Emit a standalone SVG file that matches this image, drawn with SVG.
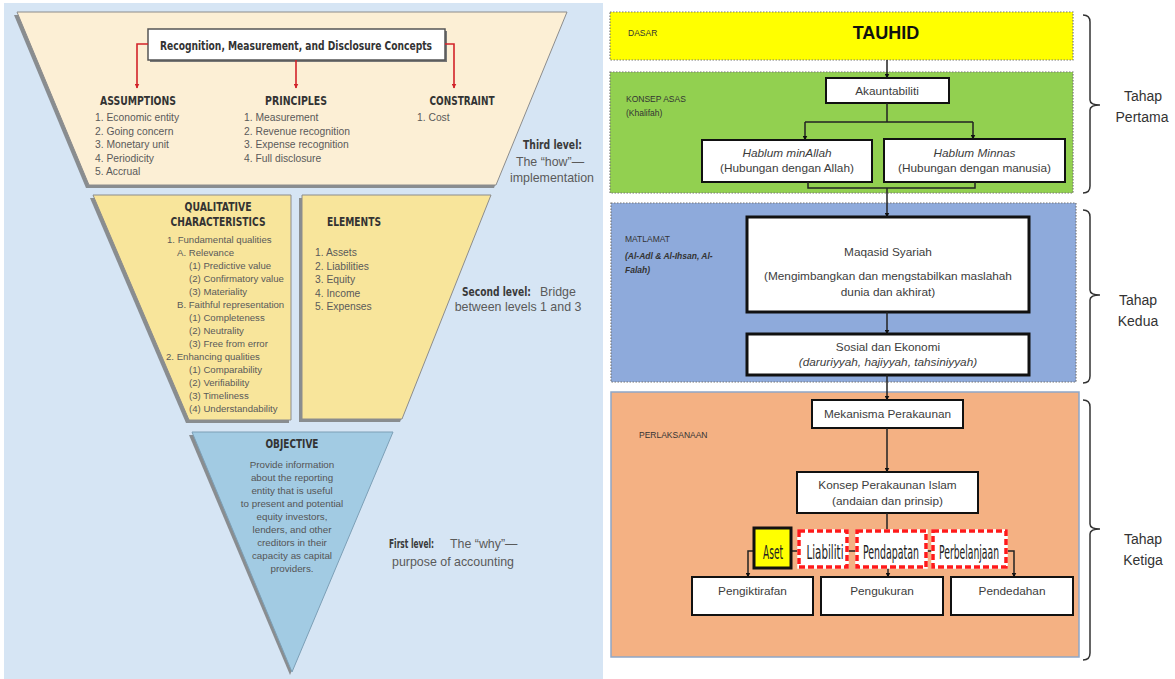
<svg xmlns="http://www.w3.org/2000/svg" width="1175" height="679" viewBox="0 0 1175 679">
  <style>
    .hd { font-family: "Liberation Sans Narrow", "DejaVu Sans Condensed", "Liberation Sans", sans-serif; font-weight: bold; font-size: 12.5px; fill: #333; }
    .it { font-family: "Liberation Sans", Arial, sans-serif; font-size: 10.3px; fill: #5a5a5a; }
    .iq { font-family: "Liberation Sans", Arial, sans-serif; font-size: 9.6px; fill: #5a5a5a; }
    .ob { font-family: "Liberation Sans", Arial, sans-serif; font-size: 9.8px; fill: #555; text-anchor: middle; }
    .lv { font-family: "Liberation Sans", Arial, sans-serif; font-size: 12.4px; fill: #5a5a5a; }
    .lvb { font-family: "Liberation Sans Narrow", "DejaVu Sans Condensed", "Liberation Sans", sans-serif; font-size: 11.4px; font-weight: bold; fill: #3a3a3a; }
    .shadow { fill: #6f6f6f; opacity: 0.75; }
    .r { font-family: "Liberation Sans", Arial, sans-serif; font-size: 11.8px; fill: #3c3c3c; text-anchor: middle; }
    .ri { font-style: italic; }
    .sm { font-family: "Liberation Sans", Arial, sans-serif; font-size: 8.5px; fill: #333; }
    .box { fill: #fff; stroke: #111; stroke-width: 2; }
    .box3 { fill: #fff; stroke: #111; stroke-width: 3; }
    .band { stroke: #777; stroke-width: 1.2; stroke-dasharray: 1.5 1.5; }
    .chip { font-family: "Liberation Sans Narrow", "DejaVu Sans Condensed", "Liberation Sans", sans-serif; font-size: 15px; fill: #222; text-anchor: middle; }
    .dash-under { fill: #fff; stroke: #fff; stroke-width: 3.5; }
    .dash { fill: none; stroke: #ff1a1a; stroke-width: 3.5; stroke-dasharray: 6 3; }
    .conn { fill: none; stroke: #222; stroke-width: 1.5; }
    .red { fill: none; stroke: #d2232a; stroke-width: 1.6; }
    .brace { fill: none; stroke: #333; stroke-width: 1.5; }
    .tahap { font-family: "Liberation Sans", Arial, sans-serif; font-size: 14px; fill: #333; text-anchor: middle; }
  </style>
  <defs>
    <marker id="redhead" viewBox="0 0 10 10" refX="9" refY="5" markerWidth="5" markerHeight="5" orient="auto" markerUnits="userSpaceOnUse">
      <path d="M0,0 L10,5 L0,10 z" fill="#d2232a"/>
    </marker>
    <marker id="blackhead" viewBox="0 0 10 10" refX="9" refY="5" markerWidth="5" markerHeight="5" orient="auto" markerUnits="userSpaceOnUse">
      <path d="M0,0 L10,5 L0,10 z" fill="#111"/>
    </marker>
  </defs>

  <rect x="0" y="0" width="1175" height="679" fill="#ffffff"/>

  <!-- conceptual framework pyramid -->
  <g id="framework-panel">
    <rect x="4" y="3" width="599" height="676" fill="#d6e5f4"/>
  </g>

  <g id="third-level">
    <polygon class="shadow" points="14,15 564,15 494,188 86,188"/>
    <polygon points="17,12 567,12 496,185 89,185" fill="#fcefd5" stroke="#8c8c8c" stroke-width="1"/>
  </g>

  <g id="concepts-box">
    <rect x="150" y="31" width="297" height="31" fill="#777"/>
    <rect x="148" y="29" width="297" height="31" fill="#fff" stroke="#555" stroke-width="1.5"/>
    <text class="hd" x="296" y="49.5" text-anchor="middle" textLength="272" lengthAdjust="spacingAndGlyphs">Recognition, Measurement, and Disclosure Concepts</text>
  </g>

  <g id="red-connectors">
    <path class="red" d="M148,44 H137 V88" marker-end="url(#redhead)"/>
    <path class="red" d="M296,60 V88" marker-end="url(#redhead)"/>
    <path class="red" d="M445,44 H454 V88" marker-end="url(#redhead)"/>
  </g>

  <g id="assumptions">
    <text class="hd" x="138" y="105" text-anchor="middle" textLength="76" lengthAdjust="spacingAndGlyphs">ASSUMPTIONS</text>
    <text class="it" x="95" y="121">1. Economic entity</text>
    <text class="it" x="95" y="134.5">2. Going concern</text>
    <text class="it" x="95" y="148">3. Monetary unit</text>
    <text class="it" x="95" y="161.5">4. Periodicity</text>
    <text class="it" x="95" y="175">5. Accrual</text>
  </g>

  <g id="principles">
    <text class="hd" x="296" y="105" text-anchor="middle" textLength="62" lengthAdjust="spacingAndGlyphs">PRINCIPLES</text>
    <text class="it" x="244" y="121">1. Measurement</text>
    <text class="it" x="244" y="134.5">2. Revenue recognition</text>
    <text class="it" x="244" y="148">3. Expense recognition</text>
    <text class="it" x="244" y="161.5">4. Full disclosure</text>
  </g>

  <g id="constraint">
    <text class="hd" x="462" y="105" text-anchor="middle" textLength="65" lengthAdjust="spacingAndGlyphs">CONSTRAINT</text>
    <text class="it" x="417" y="121">1. Cost</text>
  </g>

  <g id="third-level-label">
    <text class="lvb" x="523" y="149" textLength="59" lengthAdjust="spacingAndGlyphs">Third level:</text>
    <text class="lv" x="550" y="166" text-anchor="middle">The “how”—</text>
    <text class="lv" x="552" y="182" text-anchor="middle">implementation</text>
  </g>

  <g id="qualitative-characteristics">
    <polygon class="shadow" points="90,198 289,198 289,423 186,423"/>
    <polygon points="93,195 291,195 291,420 189,420" fill="#f8e59b" stroke="#8c8c8c" stroke-width="1"/>
    <text class="hd" x="218" y="211" text-anchor="middle" textLength="67" lengthAdjust="spacingAndGlyphs">QUALITATIVE</text>
    <text class="hd" x="218" y="226" text-anchor="middle" textLength="95" lengthAdjust="spacingAndGlyphs">CHARACTERISTICS</text>
    <text class="iq" x="167" y="243">1. Fundamental qualities</text>
    <text class="iq" x="177" y="256">A. Relevance</text>
    <text class="iq" x="189" y="269">(1) Predictive value</text>
    <text class="iq" x="189" y="282">(2) Confirmatory value</text>
    <text class="iq" x="189" y="295">(3) Materiality</text>
    <text class="iq" x="177" y="308">B. Faithful representation</text>
    <text class="iq" x="189" y="321">(1) Completeness</text>
    <text class="iq" x="189" y="334">(2) Neutrality</text>
    <text class="iq" x="189" y="347">(3) Free from error</text>
    <text class="iq" x="166" y="360">2. Enhancing qualities</text>
    <text class="iq" x="189" y="373">(1) Comparability</text>
    <text class="iq" x="189" y="386">(2) Verifiability</text>
    <text class="iq" x="189" y="399">(3) Timeliness</text>
    <text class="iq" x="189" y="412">(4) Understandability</text>
  </g>

  <g id="elements">
    <polygon class="shadow" points="299,198 488,198 400,422 299,422"/>
    <polygon points="302,195 491,195 402,419 302,419" fill="#f8e59b" stroke="#8c8c8c" stroke-width="1"/>
    <text class="hd" x="327" y="226" textLength="54" lengthAdjust="spacingAndGlyphs">ELEMENTS</text>
    <text class="it" x="315" y="256">1. Assets</text>
    <text class="it" x="315" y="269.5">2. Liabilities</text>
    <text class="it" x="315" y="283">3. Equity</text>
    <text class="it" x="315" y="296.5">4. Income</text>
    <text class="it" x="315" y="310">5. Expenses</text>
  </g>

  <g id="second-level-label">
    <text class="lvb" x="462" y="296" textLength="69" lengthAdjust="spacingAndGlyphs">Second level:</text>
    <text class="lv" x="540" y="296">Bridge</text>
    <text class="lv" x="518" y="311" text-anchor="middle">between levels 1 and 3</text>
  </g>

  <g id="objective">
    <polygon class="shadow" points="189,435 390,435 290,675"/>
    <polygon points="192,432 393,432 292,672" fill="#a2cbe3" stroke="#7c9fb6" stroke-width="1"/>
    <text class="hd" x="292" y="448" text-anchor="middle" textLength="53" lengthAdjust="spacingAndGlyphs">OBJECTIVE</text>
    <text class="ob" x="292" y="467.5">Provide information</text>
    <text class="ob" x="292" y="480.5">about the reporting</text>
    <text class="ob" x="292" y="493.5">entity that is useful</text>
    <text class="ob" x="292" y="506.5">to present and potential</text>
    <text class="ob" x="292" y="519.5">equity investors,</text>
    <text class="ob" x="292" y="532.5">lenders, and other</text>
    <text class="ob" x="292" y="545.5">creditors in their</text>
    <text class="ob" x="292" y="558.5">capacity as capital</text>
    <text class="ob" x="292" y="572">providers.</text>
  </g>

  <g id="first-level-label">
    <text class="lvb" x="389" y="548" textLength="45" lengthAdjust="spacingAndGlyphs">First level:</text>
    <text class="lv" x="450" y="548">The “why”—</text>
    <text class="lv" x="453" y="566" text-anchor="middle">purpose of accounting</text>
  </g>

  <!-- Islamic accounting framework -->
  <g id="dasar">
    <rect class="band" x="610" y="12" width="463" height="48" fill="#ffff00"/>
    <text class="sm" x="628" y="36">DASAR</text>
    <text x="886" y="39" text-anchor="middle" font-family="Liberation Sans, Arial, sans-serif" font-weight="bold" font-size="18" fill="#111">TAUHID</text>
  </g>

  <g id="konsep-asas">
    <rect class="band" x="610" y="72" width="463" height="121" fill="#92d050"/>
    <text class="sm" x="626" y="102">KONSEP ASAS</text>
    <text class="sm" x="626" y="116">(Khalifah)</text>
  </g>

  <g id="akauntabiliti">
    <rect class="box" x="826" y="78" width="123" height="25"/>
    <text class="r" x="887" y="95">Akauntabiliti</text>
  </g>

  <g id="hablum-minallah">
    <rect class="box" x="702" y="140" width="170" height="42"/>
    <text class="r ri" x="787" y="157">Hablum minAllah</text>
    <text class="r" x="787" y="172">(Hubungan dengan Allah)</text>
  </g>

  <g id="hablum-minnas">
    <rect class="box" x="884" y="139" width="181" height="43"/>
    <text class="r ri" x="974.5" y="157">Hablum Minnas</text>
    <text class="r" x="974.5" y="172">(Hubungan dengan manusia)</text>
  </g>

  <g id="matlamat">
    <rect class="band" x="611" y="203" width="465" height="179" fill="#8eaadb"/>
    <text class="sm" x="625" y="242">MATLAMAT</text>
    <text class="sm" x="625" y="259" font-style="italic" font-weight="bold">(Al-Adl &amp; Al-Ihsan, Al-</text>
    <text class="sm" x="625" y="273" font-style="italic" font-weight="bold">Falah)</text>
  </g>

  <g id="maqasid-syariah">
    <rect class="box3" x="747" y="217" width="282" height="95"/>
    <text class="r" x="888" y="256">Maqasid Syariah</text>
    <text class="r" x="888" y="280">(Mengimbangkan dan mengstabilkan maslahah</text>
    <text class="r" x="888" y="296">dunia dan akhirat)</text>
  </g>

  <g id="sosial-ekonomi">
    <rect class="box3" x="747" y="334" width="282" height="41"/>
    <text class="r" x="888" y="351">Sosial dan Ekonomi</text>
    <text class="r ri" x="888" y="366" font-size="11">(daruriyyah, hajiyyah, tahsiniyyah)</text>
  </g>

  <g id="perlaksanaan">
    <rect x="611" y="392" width="468" height="265" fill="#f4b183" stroke="#8ea7c7" stroke-width="1.5"/>
    <text class="sm" x="639" y="438">PERLAKSANAAN</text>
  </g>

  <g id="mekanisma">
    <rect class="box" x="812" y="400" width="151" height="28"/>
    <text class="r" x="887.5" y="418">Mekanisma Perakaunan</text>
  </g>

  <g id="konsep-perakaunan">
    <rect class="box" x="797" y="472" width="181" height="41"/>
    <text class="r" x="887.5" y="489">Konsep Perakaunan Islam</text>
    <text class="r" x="887.5" y="505">(andaian dan prinsip)</text>
  </g>

  <g id="connectors">
    <path class="conn" d="M887,60 V78" marker-end="url(#blackhead)"/>
    <path class="conn" d="M887,103 V122 M805,122 H973"/>
    <path class="conn" d="M805,122 V140" marker-end="url(#blackhead)"/>
    <path class="conn" d="M973,122 V139" marker-end="url(#blackhead)"/>
    <path class="conn" d="M808,182 V188 H975 V182"/>
    <path class="conn" d="M887,188 V217" marker-end="url(#blackhead)"/>
    <path class="conn" d="M887,312 V334" marker-end="url(#blackhead)"/>
    <path class="conn" d="M887,375 V400" marker-end="url(#blackhead)"/>
    <path class="conn" d="M887,428 V472" marker-end="url(#blackhead)"/>
    <path class="conn" d="M887,513 V531"/>
    <path class="conn" d="M791,551 H799 M847,551 H857 M926,551 H933"/>
    <path class="conn" d="M754,551 H748 V577" marker-end="url(#blackhead)"/>
    <path class="conn" d="M888,567 V577" marker-end="url(#blackhead)"/>
    <path class="conn" d="M1006,551 H1014 V577" marker-end="url(#blackhead)"/>
  </g>

  <g id="aset">
    <rect x="754" y="528" width="37" height="40" fill="#ffff00" stroke="#111" stroke-width="3"/>
    <text class="chip" transform="translate(773,559) scale(1,1.3)" textLength="20" lengthAdjust="spacingAndGlyphs">Aset</text>
  </g>

  <g id="liabiliti">
    <rect class="dash-under" x="799" y="531" width="48" height="36"/>
    <rect class="dash" x="799" y="531" width="48" height="36"/>
    <text class="chip" transform="translate(825,559) scale(1,1.3)" textLength="37" lengthAdjust="spacingAndGlyphs">Liabiliti</text>
  </g>

  <g id="pendapatan">
    <rect class="dash-under" x="857" y="531" width="69" height="36"/>
    <rect class="dash" x="857" y="531" width="69" height="36"/>
    <text class="chip" transform="translate(891,559) scale(1,1.3)" textLength="56" lengthAdjust="spacingAndGlyphs">Pendapatan</text>
  </g>

  <g id="perbelanjaan">
    <rect class="dash-under" x="933" y="531" width="73" height="36"/>
    <rect class="dash" x="933" y="531" width="73" height="36"/>
    <text class="chip" transform="translate(969,559) scale(1,1.3)" textLength="60" lengthAdjust="spacingAndGlyphs">Perbelanjaan</text>
  </g>

  <g id="pengiktirafan">
    <rect class="box" x="692" y="577" width="121" height="38"/>
    <text class="r" x="752.5" y="595">Pengiktirafan</text>
  </g>

  <g id="pengukuran">
    <rect class="box" x="821" y="577" width="122" height="38"/>
    <text class="r" x="882" y="595">Pengukuran</text>
  </g>

  <g id="pendedahan">
    <rect class="box" x="951" y="577" width="122" height="38"/>
    <text class="r" x="1012" y="595">Pendedahan</text>
  </g>

  <g id="tahap-pertama">
    <path class="brace" d="M1083,15 Q1090,15 1090,22 V100 Q1090,105 1100,105 Q1090,105 1090,110 V186 Q1090,193 1083,193"/>
    <text class="tahap" x="1143" y="101">Tahap</text>
    <text class="tahap" x="1142" y="122">Pertama</text>
  </g>

  <g id="tahap-kedua">
    <path class="brace" d="M1083,210 Q1090,210 1090,217 V290 Q1090,295 1100,295 Q1090,295 1090,300 V376 Q1090,383 1083,383"/>
    <text class="tahap" x="1138" y="305">Tahap</text>
    <text class="tahap" x="1138" y="326">Kedua</text>
  </g>

  <g id="tahap-ketiga">
    <path class="brace" d="M1083,400 Q1090,400 1090,407 V524 Q1090,529 1100,529 Q1090,529 1090,534 V653 Q1090,660 1083,660"/>
    <text class="tahap" x="1143" y="544">Tahap</text>
    <text class="tahap" x="1143" y="565">Ketiga</text>
  </g>
</svg>
